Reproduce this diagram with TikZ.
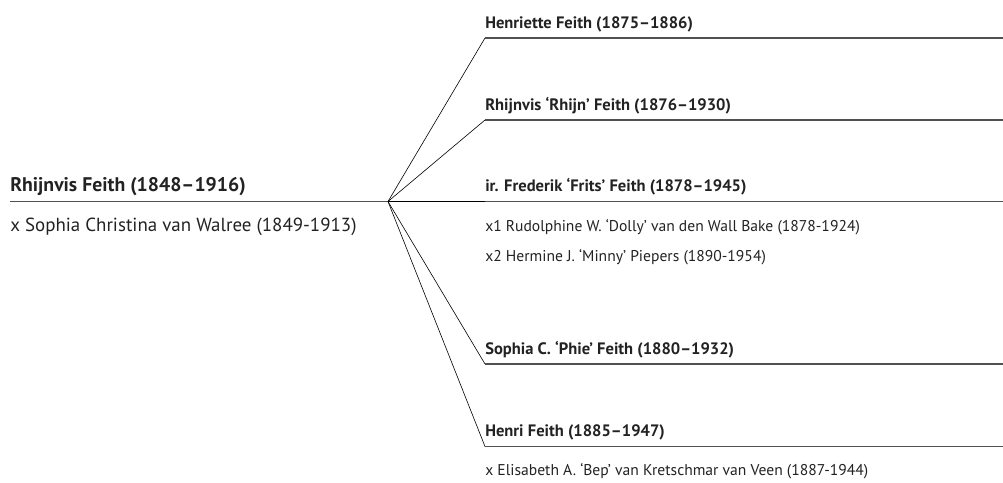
\documentclass[tikz,border=0pt]{standalone}
\usepackage{fontspec}
\setmainfont{PT Sans}
\usetikzlibrary{positioning}
\definecolor{inkgray}{HTML}{222222}
\definecolor{linegray}{HTML}{505050}
\tikzset{
  label/.style={anchor=base west, inner sep=0pt, text=inkgray},
  person/.style={label, font=\fontsize{12.4}{14}\selectfont\bfseries},
  partner/.style={label, font=\fontsize{11.7}{14}\selectfont},
  elder/.style={label, font=\fontsize{14.8}{17}\selectfont\bfseries},
  elderpartner/.style={label, font=\fontsize{14.2}{17}\selectfont},
  branch/.style={draw=linegray, line width=0.9pt},
  twig/.style={draw=black, line width=0.45pt},
}
\begin{document}
\begin{tikzpicture}[x=0.75pt,y=-0.75pt]
\useasboundingbox (0,0) rectangle (1003,482);
% parent and wife
\coordinate (p0) at (10,201.5);
\coordinate (j) at (388,201.5);
\node[elder] (parent) at (10,191.5) {Rhijnvis Feith (1848–1916)};
\node[elderpartner] (wife) at (10,231) {x Sophia Christina van Walree (1849-1913)};
\draw[branch] (p0) -- (j);
% children
\foreach \i/\y/\who in {1/38/{Henriette Feith (1875–1886)},
                        2/120/{Rhijnvis ‘Rhijn’ Feith (1876–1930)},
                        3/201.5/{ir. Frederik ‘Frits’ Feith (1878–1945)},
                        4/364/{Sophia C. ‘Phie’ Feith (1880–1932)},
                        5/446.5/{Henri Feith (1885–1947)}} {
  \coordinate (s\i) at (485,\y);
  \coordinate (e\i) at (1003,\y);
  \node[person] (c\i) at (485,\y-10) {\who};
  \draw[twig] (j) -- (s\i);
  \draw[branch] (s\i) -- (e\i);
}
% spouses of the children
\node[partner] (c3x1) at (485,231.5) {x1 Rudolphine W. ‘Dolly’ van den Wall Bake (1878-1924)};
\node[partner] (c3x2) at (485,261.5) {x2 Hermine J. ‘Minny’ Piepers (1890-1954)};
\node[partner] (c5x) at (485,475) {x Elisabeth A. ‘Bep’ van Kretschmar van Veen (1887-1944)};
\end{tikzpicture}
\end{document}
